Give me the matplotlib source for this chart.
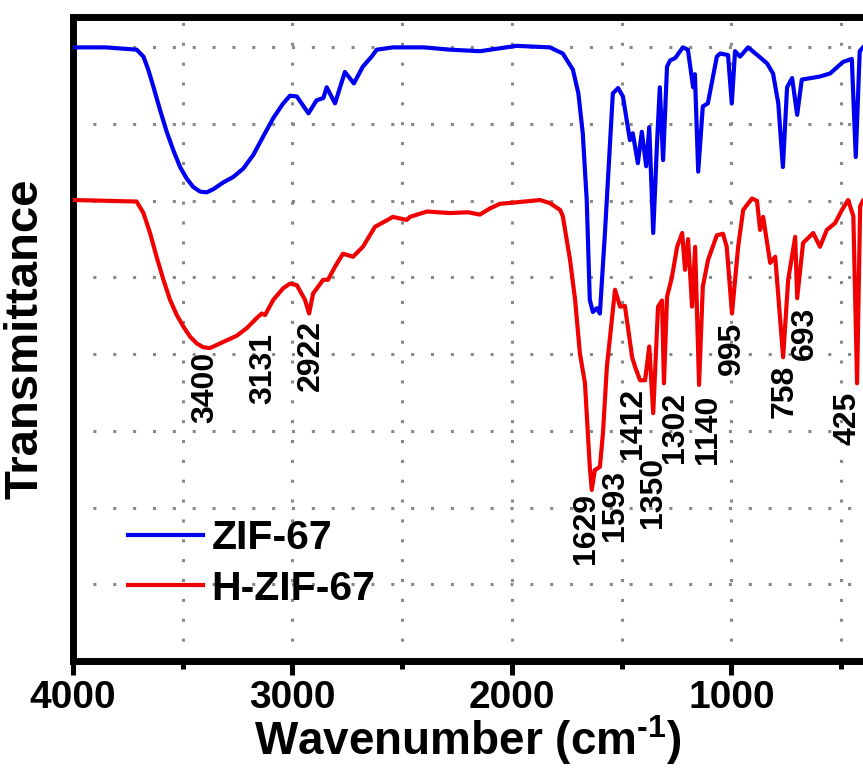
import matplotlib
matplotlib.use("Agg")
import matplotlib.pyplot as plt
from matplotlib.ticker import MultipleLocator, NullLocator

plt.rcParams['font.family'] = ['Liberation Sans', 'DejaVu Sans']
plt.rcParams['font.weight'] = 'bold'
plt.rcParams['mathtext.fontset'] = 'custom'
plt.rcParams['mathtext.rm'] = 'Liberation Sans:bold'
plt.rcParams['mathtext.bf'] = 'Liberation Sans:bold'
plt.rcParams['mathtext.default'] = 'bf'

# ZIF-67 spectrum (wavenumber, offset transmittance)
zif_wn = [4000, 3850, 3710, 3679, 3657, 3634, 3603, 3573, 3543, 3512, 3482, 3452,
          3421, 3391, 3361, 3315, 3270, 3224, 3178, 3133, 3087, 3042, 3011, 2980,
          2927, 2890, 2859, 2844, 2806, 2761, 2720, 2679, 2639, 2616, 2542, 2400,
          2282, 2146, 1979, 1827, 1768, 1722, 1697, 1677, 1659, 1645, 1631, 1613,
          1599, 1576, 1540, 1516, 1494, 1462, 1449, 1426, 1408, 1388, 1374, 1356,
          1338, 1326, 1311, 1293, 1279, 1256, 1221, 1198, 1174, 1166, 1151, 1130,
          1107, 1066, 1051, 1015, 998, 983, 960, 924, 869, 837, 810, 786, 765, 746,
          723, 700, 679, 596, 550, 491, 451, 433, 415, 400]
zif_t = [8.00, 8.00, 7.97, 7.88, 7.71, 7.49, 7.18, 6.90, 6.66, 6.44, 6.29, 6.18,
         6.12, 6.11, 6.15, 6.24, 6.31, 6.42, 6.60, 6.84, 7.08, 7.27, 7.37, 7.36,
         7.14, 7.31, 7.34, 7.48, 7.27, 7.68, 7.53, 7.75, 7.88, 7.97, 8.00, 8.00,
         7.97, 7.95, 8.02, 8.00, 7.92, 7.71, 7.40, 6.88, 6.01, 4.71, 4.55, 4.60,
         4.53, 5.58, 7.40, 7.47, 7.36, 6.79, 6.88, 6.49, 6.90, 6.45, 6.96, 5.58,
         6.79, 7.48, 6.53, 7.75, 7.83, 7.86, 8.00, 7.97, 7.48, 7.65, 6.38, 7.23,
         7.27, 7.88, 7.92, 7.90, 7.27, 7.95, 7.88, 8.00, 7.87, 7.79, 7.66, 7.27,
         6.44, 7.48, 7.60, 7.12, 7.58, 7.62, 7.66, 7.81, 7.85, 6.57, 7.95, 8.00]

# H-ZIF-67 spectrum
hzif_wn = [4000, 3850, 3710, 3679, 3649, 3619, 3588, 3558, 3527, 3497, 3467, 3436,
           3406, 3376, 3345, 3300, 3254, 3208, 3163, 3140, 3125, 3087, 3042, 3011,
           2980, 2943, 2924, 2906, 2860, 2838, 2806, 2770, 2724, 2679, 2624, 2542,
           2479, 2465, 2387, 2282, 2200, 2146, 2100, 2055, 1979, 1872, 1827, 1780,
           1768, 1735, 1712, 1690, 1667, 1645, 1636, 1622, 1599, 1585, 1567, 1530,
           1507, 1485, 1452, 1438, 1416, 1393, 1374, 1356, 1334, 1316, 1307, 1293,
           1271, 1247, 1224, 1211, 1197, 1179, 1165, 1147, 1130, 1106, 1066, 1038,
           1021, 997, 969, 946, 906, 883, 869, 855, 823, 800, 764, 741, 709, 700,
           673, 627, 596, 565, 527, 496, 468, 444, 427, 413, 400]
hzif_t = [6.01, 6.00, 5.99, 5.84, 5.58, 5.27, 4.97, 4.71, 4.51, 4.36, 4.23, 4.14,
          4.09, 4.08, 4.12, 4.18, 4.24, 4.34, 4.47, 4.53, 4.51, 4.71, 4.86, 4.92,
          4.90, 4.71, 4.53, 4.79, 4.97, 4.97, 5.14, 5.31, 5.27, 5.40, 5.66, 5.79,
          5.75, 5.79, 5.86, 5.84, 5.85, 5.82, 5.90, 5.96, 5.98, 6.01, 5.97, 5.88,
          5.80, 5.23, 4.71, 4.01, 3.62, 2.53, 2.23, 2.49, 2.53, 2.97, 3.84, 4.84,
          4.62, 4.63, 3.96, 3.83, 3.66, 3.66, 4.10, 3.23, 4.62, 4.70, 3.62, 4.75,
          5.00, 5.40, 5.58, 5.10, 5.50, 4.62, 5.40, 3.60, 4.88, 5.23, 5.55, 5.57,
          5.40, 4.53, 5.40, 5.88, 6.03, 6.00, 5.62, 5.79, 5.19, 5.27, 3.96, 4.97,
          5.53, 4.73, 5.45, 5.58, 5.40, 5.62, 5.71, 5.88, 6.01, 5.80, 3.62, 5.93,
          6.00]

# peak labels: text, label x (cm-1), label top (y units)
peak_text = ['3400', '3131', '2922', '1629', '1593', '1412', '1350', '1302',
             '1140', '995', '758', '693', '425']
peak_x = [3398, 3134, 2915, 1662, 1530, 1448, 1356, 1256, 1106, 996, 755, 664, 472]
peak_y = [4.03, 4.28, 4.45, 2.19, 2.49, 3.56, 2.66, 3.51, 3.47, 4.42, 3.86, 4.62, 3.51]

fig = plt.figure(figsize=(8.63, 7.69), dpi=100)
ax = fig.add_axes([73 / 863, 1 - 661 / 769, 1 - 73 / 863, 644.3 / 769])

ax.plot(zif_wn, zif_t, color='#0000f0', lw=3, label='ZIF-67', zorder=3)
ax.plot(hzif_wn, hzif_t, color='#f00000', lw=3, label='H-ZIF-67', zorder=3)

for txt, x, y in zip(peak_text, peak_x, peak_y):
    ax.text(x, y, txt, rotation=90, ha='center', va='top', fontsize=23,
            fontweight='bold', zorder=4)

ax.set_xlim(4000, 400)
ax.set_ylim(0, 8.4)
ax.xaxis.set_major_locator(MultipleLocator(1000))
ax.xaxis.set_minor_locator(MultipleLocator(500))
ax.yaxis.set_major_locator(MultipleLocator(1))
ax.yaxis.set_minor_locator(NullLocator())
ax.set_yticklabels([])
ax.tick_params(axis='y', length=0)
ax.tick_params(axis='x', which='major', direction='out', length=10, width=3.6,
               labelsize=28, pad=3.5)
ax.tick_params(axis='x', which='minor', direction='out', length=6, width=3.6)

grid_kw = dict(color='#888888', lw=2.2, ls=(0, (1, 5.5)))
ax.grid(True, which='both', axis='x', **grid_kw)
ax.grid(True, which='major', axis='y', **grid_kw)

for side in ['left', 'top', 'bottom']:
    ax.spines[side].set_linewidth(5)
ax.spines['right'].set_visible(False)

ax.set_xlabel(r'Wavenumber (cm$^{\text{-1}}$)', fontsize=33, fontweight='bold',
              labelpad=-2)
ax.set_ylabel('Transmittance', fontsize=34, fontweight='bold', labelpad=15)

ax.legend(loc='upper left', bbox_to_anchor=(0.069, 0.220), frameon=False,
          fontsize=29.5, handlelength=1.85, handletextpad=0.2, labelspacing=0.3,
          borderpad=0, borderaxespad=0)

fig.savefig('out.png', dpi=100)
